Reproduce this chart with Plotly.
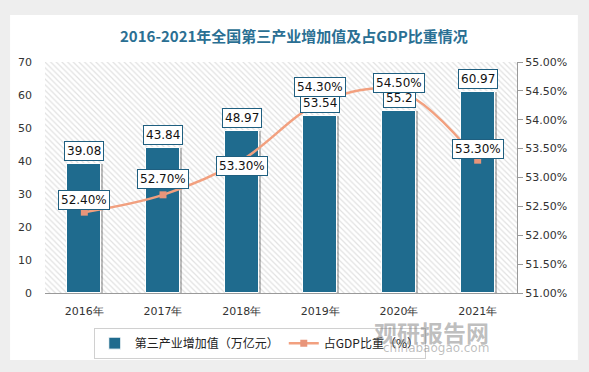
import plotly.graph_objects as go

years = ["2016年", "2017年", "2018年", "2019年", "2020年", "2021年"]
added_value = [39.08, 43.84, 48.97, 53.54, 55.2, 60.97]
gdp_share = [52.40, 52.70, 53.30, 54.30, 54.50, 53.30]
bar_labels = ["39.08", "43.84", "48.97", "53.54", "55.2", "60.97"]
share_labels = ["52.40%", "52.70%", "53.30%", "54.30%", "54.50%", "53.30%"]
share_label_shift = [12, 16, -6, 15, 8, 11]

left_ticks = [0, 10, 20, 30, 40, 50, 60, 70]
right_ticks = [51.0, 51.5, 52.0, 52.5, 53.0, 53.5, 54.0, 54.5, 55.0]
right_tick_text = ["51.00%", "51.50%", "52.00%", "52.50%", "53.00%", "53.50%", "54.00%", "54.50%", "55.00%"]

BAR = "#1F6B8E"
LINE = "#F2A07F"
MARK = "#E8957A"
FONT = "DejaVu Sans"

fig = go.Figure()

# hatched plot background
fig.add_trace(go.Bar(
    x=[years[0]], y=[70], width=[6], offset=-0.5,
    marker=dict(color="white", line=dict(width=0),
                pattern=dict(shape="\\", fgcolor="#c4c4c4", bgcolor="white", size=4, solidity=0.3)),
    showlegend=False, hoverinfo="skip",
))
# bar shadows
fig.add_trace(go.Bar(
    x=years, y=added_value, width=0.43, offset=-0.19,
    marker=dict(color="rgba(0,0,0,0.25)", line=dict(width=0)),
    showlegend=False, hoverinfo="skip",
))
fig.add_trace(go.Bar(
    x=years, y=added_value, width=0.43, offset=-0.215,
    name="第三产业增加值（万亿元）",
    marker=dict(color=BAR, line=dict(color="white", width=1)),
))
fig.add_trace(go.Scatter(
    x=years, y=gdp_share, yaxis="y2", mode="lines+markers",
    name="占GDP比重（%）",
    line=dict(color=LINE, width=2.5, shape="spline", smoothing=1.0),
    marker=dict(symbol="square", size=7, color=MARK),
))

annotations = []
for x, v, t in zip(years, added_value, bar_labels):
    annotations.append(dict(
        x=x, y=v, xref="x", yref="y", text=t, showarrow=False,
        yshift=13, font=dict(family=FONT, size=12, color="#111"),
        bgcolor="white", bordercolor="#1F5F80", borderwidth=1, borderpad=2,
    ))
for x, v, t, s in zip(years, gdp_share, share_labels, share_label_shift):
    annotations.append(dict(
        x=x, y=v, xref="x", yref="y2", text=t, showarrow=False,
        yshift=s, font=dict(family=FONT, size=12, color="#111"),
        bgcolor="white", bordercolor="#1F5F80", borderwidth=1, borderpad=2,
    ))

annotations.append(dict(
    x=0.528, y=1.0, xref="paper", yref="paper", yshift=27, yanchor="middle",
    showarrow=False,
    text="<b>2016-2021年全国第三产业增加值及占GDP比重情况</b>",
    font=dict(family="Noto Sans CJK SC", size=15, color="#2A6F93"),
))
annotations.append(dict(
    x=0.945, y=-0.085, xref="paper", yref="paper", showarrow=False,
    text="<b>观研报告网</b>", xanchor="right", yanchor="top",
    font=dict(family="Noto Sans CJK SC", size=23, color="rgba(110,110,110,0.45)"),
))
annotations.append(dict(
    x=0.945, y=-0.2, xref="paper", yref="paper", showarrow=False,
    text="chinabaogao.com", xanchor="right", yanchor="top",
    font=dict(family=FONT, size=12, color="rgba(110,110,110,0.45)"),
))

fig.update_layout(
    width=589, height=372,
    margin=dict(l=45, r=72, t=62, b=79, autoexpand=False),
    paper_bgcolor="#eeeeee", plot_bgcolor="white",
    barmode="overlay", bargap=0,
    font=dict(family=FONT, size=11, color="#333"),
    shapes=[dict(type="rect", xref="paper", yref="paper",
                 x0=-0.074, x1=1.129, y0=-0.29, y1=1.203,
                 fillcolor="white", line=dict(width=0), layer="below")],
    annotations=annotations,
    xaxis=dict(type="category", categoryorder="array", categoryarray=years,
               range=[-0.5, 5.5], showgrid=False, showline=True, linecolor="#9a9a9a",
               linewidth=1, ticks="", ticklabelstandoff=8,
               tickfont=dict(size=11, color="#333"), automargin=False),
    yaxis=dict(range=[0, 70], tickvals=left_ticks, showgrid=False, zeroline=False,
               showline=False, ticks="", ticklabelstandoff=12,
               tickfont=dict(size=11, color="#333"), automargin=False),
    yaxis2=dict(overlaying="y", side="right", range=[51, 55], tickvals=right_ticks,
                ticktext=right_tick_text, showgrid=False, zeroline=False,
                showline=True, linecolor="#9a9a9a", ticks="outside", ticklen=5,
                tickcolor="#9a9a9a", tickfont=dict(size=11, color="#333"), automargin=False),
    legend=dict(orientation="h", x=0.455, xanchor="center", y=-0.15, yanchor="top",
                bordercolor="#d0d0d0", borderwidth=1, bgcolor="rgba(255,255,255,0)",
                font=dict(family="Noto Sans CJK SC", size=12, color="#222"),
                itemwidth=30, traceorder="normal"),
)

fig.write_html("out.html", config={"displayModeBar": False},
               post_script="document.body.style.margin='0';document.body.style.padding='0';")
